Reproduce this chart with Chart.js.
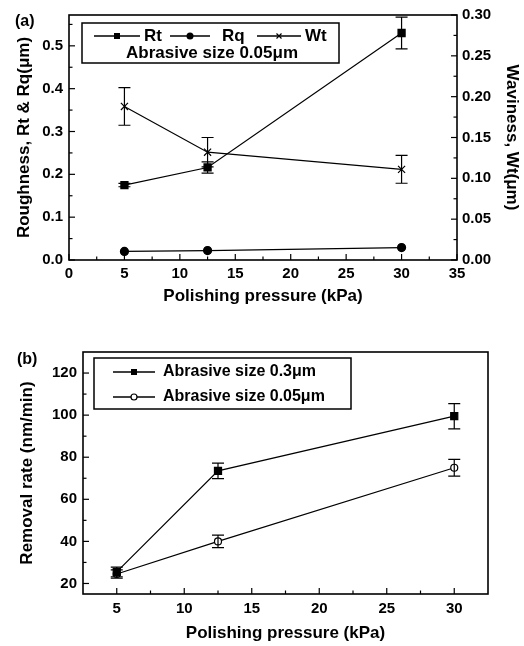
<!DOCTYPE html>
<html><head><meta charset="utf-8">
<script src="https://cdn.jsdelivr.net/npm/chart.js@4/dist/chart.umd.min.js"></script>
<style>
html,body{margin:0;padding:0;background:#fff;}
#wrap{position:relative;width:524px;height:646px;overflow:hidden;background:#fff;}
canvas{position:absolute;left:0;}
#c1{top:0;} #c2{top:330px;}
</style></head><body>
<div id="wrap"><canvas id="c1" width="524" height="325"></canvas><canvas id="c2" width="524" height="316"></canvas></div>
<script>
// ---------- data: panel (a) ----------
const pressureA = [5, 12.5, 30];
const rtValues = [0.175, 0.216, 0.53];
const rtErrors = [0.004, 0.013, 0.037];
const rqValues = [0.020, 0.022, 0.029];
const rqErrors = [0.004, 0.003, 0.003];
const wtValues = [0.188, 0.132, 0.111];
const wtErrors = [0.023, 0.018, 0.017];
const xTicksA = [0, 5, 10, 15, 20, 25, 30, 35];
const yTicksA = [0, 0.1, 0.2, 0.3, 0.4, 0.5];
const y2TicksA = [0, 0.05, 0.10, 0.15, 0.20, 0.25, 0.30];

// ---------- data: panel (b) ----------
const pressureB = [5, 12.5, 30];
const rate03 = [25.5, 73.5, 99.5];
const rate03Err = [2.3, 3.7, 6];
const rate005 = [24.5, 40, 75];
const rate005Err = [2, 3, 4];
const xTicksB = [5, 10, 15, 20, 25, 30];
const yTicksB = [20, 40, 60, 80, 100, 120];

const FAM = '"Liberation Sans", Arial, Helvetica, sans-serif';
const tickFont = {family: FAM, size: 15, weight: 'bold'};
const titleFont = {family: FAM, size: 17, weight: 'bold'};

function pts(xs, ys) { return xs.map((x, i) => ({x: x, y: ys[i]})); }

function drawMarker(ctx, style, x, y, r) {
  ctx.save();
  ctx.lineWidth = 1.2;
  ctx.strokeStyle = '#000';
  ctx.fillStyle = '#000';
  ctx.beginPath();
  if (style === 'rect') {
    ctx.rect(x - r, y - r, 2 * r, 2 * r); ctx.fill();
  } else if (style === 'dot') {
    ctx.arc(x, y, r, 0, Math.PI * 2); ctx.fill();
  } else if (style === 'open') {
    ctx.fillStyle = '#fff';
    ctx.arc(x, y, r, 0, Math.PI * 2); ctx.fill(); ctx.stroke();
  } else if (style === 'cross') {
    ctx.moveTo(x - r, y - r); ctx.lineTo(x + r, y + r);
    ctx.moveTo(x + r, y - r); ctx.lineTo(x - r, y + r); ctx.stroke();
  }
  ctx.restore();
}

// error bars, drawn from dataset values through the scales
const errorBarPlugin = {
  id: 'errorBars',
  afterDatasetsDraw(chart) {
    const ctx = chart.ctx;
    chart.data.datasets.forEach((ds, di) => {
      if (!ds.errors) return;
      const meta = chart.getDatasetMeta(di);
      const ys = chart.scales[meta.yAxisID];
      const cap = ds.capWidth || 6;
      ctx.save();
      ctx.strokeStyle = '#000';
      ctx.lineWidth = 1.2;
      meta.data.forEach((el, i) => {
        const v = ds.data[i].y, e = ds.errors[i];
        const yt = ys.getPixelForValue(v + e), yb = ys.getPixelForValue(v - e);
        const x = el.x;
        ctx.beginPath();
        ctx.moveTo(x, yt); ctx.lineTo(x, yb);
        ctx.moveTo(x - cap, yt); ctx.lineTo(x + cap, yt);
        ctx.moveTo(x - cap, yb); ctx.lineTo(x + cap, yb);
        ctx.stroke();
      });
      ctx.restore();
    });
  }
};

// frame + inward major/minor tick marks
const framePlugin = {
  id: 'frameTicks',
  afterDraw(chart) {
    const ctx = chart.ctx, a = chart.chartArea;
    ctx.save();
    ctx.strokeStyle = '#000';
    ctx.lineWidth = 1.6;
    ctx.strokeRect(a.left, a.top, a.right - a.left, a.bottom - a.top);
    ctx.lineWidth = 1.2;
    Object.values(chart.scales).forEach(s => {
      const vals = s.ticks.map(t => t.value);
      const minors = [];
      for (let i = 0; i < vals.length - 1; i++) minors.push((vals[i] + vals[i + 1]) / 2);
      if (vals.length > 1) {
        const step = vals[1] - vals[0];
        const lo = vals[0] - step / 2, hi = vals[vals.length - 1] + step / 2;
        if (lo > s.min) minors.push(lo);
        if (hi < s.max) minors.push(hi);
      }
      const draw = (v, len) => {
        const p = s.getPixelForValue(v);
        ctx.beginPath();
        if (s.position === 'bottom') { ctx.moveTo(p, a.bottom); ctx.lineTo(p, a.bottom - len); }
        else if (s.position === 'left') { ctx.moveTo(a.left, p); ctx.lineTo(a.left + len, p); }
        else if (s.position === 'right') { ctx.moveTo(a.right, p); ctx.lineTo(a.right - len, p); }
        ctx.stroke();
      };
      vals.forEach(v => draw(v, 6));
      minors.forEach(v => draw(v, 3.5));
    });
    ctx.restore();
  }
};

function makeLegendPlugin(cfg) {
  const lf = cfg.font;
  return {
    id: 'customLegend',
    afterDraw(chart) {
      const ctx = chart.ctx;
      ctx.save();
      ctx.fillStyle = '#fff';
      ctx.fillRect(cfg.box[0], cfg.box[1], cfg.box[2] - cfg.box[0], cfg.box[3] - cfg.box[1]);
      ctx.strokeStyle = '#000';
      ctx.lineWidth = 1.5;
      ctx.strokeRect(cfg.box[0], cfg.box[1], cfg.box[2] - cfg.box[0], cfg.box[3] - cfg.box[1]);
      ctx.fillStyle = '#000';
      ctx.textBaseline = 'middle';
      cfg.items.forEach(it => {
        ctx.lineWidth = 1.3;
        ctx.beginPath();
        ctx.moveTo(it.x0, it.y); ctx.lineTo(it.x1, it.y); ctx.stroke();
        drawMarker(ctx, it.marker, (it.x0 + it.x1) / 2, it.y, it.r);
        ctx.fillStyle = '#000';
        ctx.textAlign = 'left';
        ctx.font = lf;
        ctx.fillText(it.text, it.tx, it.y);
      });
      (cfg.texts || []).forEach(t => {
        ctx.textAlign = t.align || 'left';
        ctx.font = t.font || lf;
        ctx.fillText(t.text, t.x, t.y);
      });
      ctx.restore();
    }
  };
}

function setTicks(arr) { return s => { s.ticks = arr.map(v => ({value: v})); }; }

// ---------------- panel (a) ----------------
new Chart(document.getElementById('c1'), {
  type: 'line',
  data: {
    datasets: [
      {label: 'Rt', data: pts(pressureA, rtValues), errors: rtErrors, capWidth: 6, yAxisID: 'y',
       borderColor: '#000', borderWidth: 1.2, pointStyle: 'rect', pointRadius: 5,
       pointBackgroundColor: '#000', pointBorderColor: '#000', tension: 0},
      {label: 'Rq', data: pts(pressureA, rqValues), errors: rqErrors, capWidth: 3, yAxisID: 'y',
       borderColor: '#000', borderWidth: 1.2, pointStyle: 'circle', pointRadius: 4,
       pointBackgroundColor: '#000', pointBorderColor: '#000', tension: 0},
      {label: 'Wt', data: pts(pressureA, wtValues), errors: wtErrors, capWidth: 6, yAxisID: 'y1',
       borderColor: '#000', borderWidth: 1.2, pointStyle: 'crossRot', pointRadius: 5,
       pointBorderWidth: 1.2, pointBackgroundColor: '#000', pointBorderColor: '#000', tension: 0}
    ]
  },
  options: {
    responsive: false, animation: false, devicePixelRatio: 1,
    layout: {padding: {top: 14, left: 0, right: 0, bottom: 0}},
    plugins: {legend: {display: false}, tooltip: {enabled: false}},
    scales: {
      x: {type: 'linear', position: 'bottom', min: 0, max: 35,
          grid: {display: false, drawTicks: false}, border: {display: false},
          ticks: {font: tickFont, color: '#000', padding: 5, maxRotation: 0, callback: v => String(v)},
          afterBuildTicks: setTicks(xTicksA), afterFit: s => { s.height = 65; },
          title: {display: true, text: 'Polishing pressure (kPa)', font: titleFont, color: '#000', padding: {top: 0, bottom: 18}}},
      y: {type: 'linear', position: 'left', min: 0, max: 0.572,
          grid: {display: false, drawTicks: false}, border: {display: false},
          ticks: {font: tickFont, color: '#000', padding: 6, callback: v => v.toFixed(1)},
          afterBuildTicks: setTicks(yTicksA), afterFit: s => { s.width = 69; },
          title: {display: true, text: 'Roughness, Rt & Rq(μm)', font: titleFont, color: '#000', padding: {top: 14, bottom: 0}}},
      y1: {type: 'linear', position: 'right', min: 0, max: 0.30,
          grid: {display: false, drawTicks: false}, border: {display: false},
          ticks: {font: tickFont, color: '#000', padding: 5, callback: v => v.toFixed(2)},
          afterBuildTicks: setTicks(y2TicksA), afterFit: s => { s.width = 67; },
          title: {display: true, text: 'Waviness, Wt(μm)', font: titleFont, color: '#000', padding: {top: 2, bottom: 0}}}
    }
  },
  plugins: [errorBarPlugin, framePlugin, makeLegendPlugin({
    font: 'bold 17px ' + FAM,
    box: [82, 23, 339, 63],
    items: [
      {x0: 94, x1: 140, y: 36, marker: 'rect', r: 3, text: 'Rt', tx: 144},
      {x0: 170, x1: 210, y: 36, marker: 'dot', r: 3.5, text: 'Rq', tx: 222},
      {x0: 257, x1: 301, y: 36, marker: 'cross', r: 2.5, text: 'Wt', tx: 305}
    ],
    texts: [
      {text: 'Abrasive size 0.05μm', x: 212, y: 53, align: 'center'},
      {text: '(a)', x: 15, y: 22, align: 'left', font: 'bold 16px ' + FAM}
    ]
  })]
});

// ---------------- panel (b) ----------------
new Chart(document.getElementById('c2'), {
  type: 'line',
  data: {
    datasets: [
      {label: 'Abrasive size 0.3μm', data: pts(pressureB, rate03), errors: rate03Err, capWidth: 6,
       borderColor: '#000', borderWidth: 1.2, pointStyle: 'rect', pointRadius: 5,
       pointBackgroundColor: '#000', pointBorderColor: '#000', tension: 0},
      {label: 'Abrasive size 0.05μm', data: pts(pressureB, rate005), errors: rate005Err, capWidth: 6,
       borderColor: '#000', borderWidth: 1.2, pointStyle: 'circle', pointRadius: 3.5, pointBorderWidth: 1.2,
       pointBackgroundColor: '#fff', pointBorderColor: '#000', tension: 0}
    ]
  },
  options: {
    responsive: false, animation: false, devicePixelRatio: 1,
    layout: {padding: {top: 22, left: 0, right: 36, bottom: 0}},
    plugins: {legend: {display: false}, tooltip: {enabled: false}},
    scales: {
      x: {type: 'linear', position: 'bottom', min: 2.5, max: 32.5,
          grid: {display: false, drawTicks: false}, border: {display: false},
          ticks: {font: tickFont, color: '#000', padding: 6, maxRotation: 0, callback: v => String(v)},
          afterBuildTicks: setTicks(xTicksB), afterFit: s => { s.height = 52; },
          title: {display: true, text: 'Polishing pressure (kPa)', font: titleFont, color: '#000', padding: {top: 0, bottom: 2}}},
      y: {type: 'linear', position: 'left', min: 15, max: 130,
          grid: {display: false, drawTicks: false}, border: {display: false},
          ticks: {font: tickFont, color: '#000', padding: 6, callback: v => String(v)},
          afterBuildTicks: setTicks(yTicksB), afterFit: s => { s.width = 83; },
          title: {display: true, text: 'Removal rate (nm/min)', font: titleFont, color: '#000', padding: {top: 17, bottom: 0}}}
    }
  },
  plugins: [errorBarPlugin, framePlugin, makeLegendPlugin({
    font: 'bold 16px ' + FAM,
    box: [94, 28, 351, 79],
    items: [
      {x0: 113, x1: 155, y: 42, marker: 'rect', r: 3, text: 'Abrasive size 0.3μm', tx: 163},
      {x0: 113, x1: 155, y: 67, marker: 'open', r: 3, text: 'Abrasive size 0.05μm', tx: 163}
    ],
    texts: [
      {text: '(b)', x: 17, y: 30, align: 'left', font: 'bold 16px ' + FAM}
    ]
  })]
});
</script>
</body></html>
